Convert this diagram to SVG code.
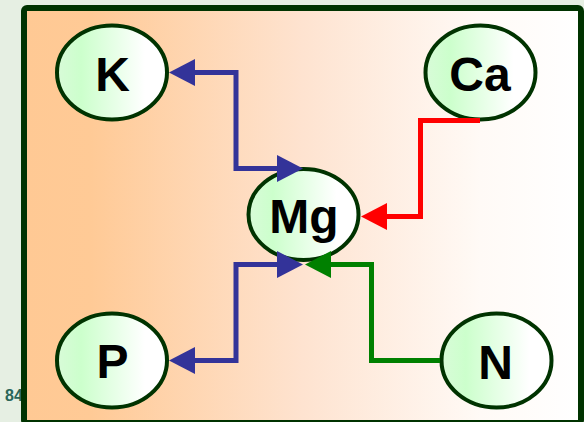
<svg xmlns="http://www.w3.org/2000/svg" width="584" height="422" viewBox="0 0 584 422">
<defs>
<linearGradient id="bg" x1="0" y1="0" x2="1" y2="0">
<stop offset="0" stop-color="#ffc994"/>
<stop offset="0.12" stop-color="#ffca96"/>
<stop offset="0.5" stop-color="#fee3d0"/>
<stop offset="0.82" stop-color="#fffaf6"/>
<stop offset="1" stop-color="#ffffff"/>
</linearGradient>
<linearGradient id="nodefill" x1="0" y1="0" x2="1" y2="0">
<stop offset="0" stop-color="#d8fbd8"/>
<stop offset="0.22" stop-color="#ccffcc"/>
<stop offset="0.8" stop-color="#ffffff"/>
<stop offset="1" stop-color="#ffffff"/>
</linearGradient>
<marker id="ahBlue" markerUnits="userSpaceOnUse" markerWidth="27" markerHeight="28" refX="0" refY="13.5" orient="auto-start-reverse" overflow="visible">
<path d="M0,0 L26,13.5 L0,27 z" fill="#333399"/>
</marker>
<marker id="ahRed" markerUnits="userSpaceOnUse" markerWidth="27" markerHeight="28" refX="0" refY="13.5" orient="auto" overflow="visible">
<path d="M0,0 L26,13.5 L0,27 z" fill="#ff0000"/>
</marker>
<marker id="ahGreen" markerUnits="userSpaceOnUse" markerWidth="27" markerHeight="28" refX="0" refY="13.5" orient="auto" overflow="visible">
<path d="M0,0 L26,13.5 L0,27 z" fill="#008000"/>
</marker>
</defs>
<style>
.node ellipse { fill: url(#nodefill); stroke: #003300; stroke-width: 4; }
.node text { font-family: "Liberation Sans", Arial, sans-serif; font-weight: bold; font-size: 48px; fill: #000000; text-anchor: middle; }
.conn { fill: none; stroke-width: 5; stroke-linejoin: miter; stroke-linecap: butt; }
.blue { stroke: #333399; marker-start: url(#ahBlue); marker-end: url(#ahBlue); }
.red { stroke: #ff0000; marker-end: url(#ahRed); }
.green { stroke: #008000; marker-end: url(#ahGreen); }
</style>
<rect x="0" y="0" width="584" height="422" fill="#e6efe3"/>
<text x="5" y="401" font-family="Liberation Sans, Arial, sans-serif" font-weight="bold" font-size="16" fill="#2a6659">84</text>
<rect id="frame" x="24" y="8" width="557" height="415" rx="3" fill="url(#bg)" stroke="#003300" stroke-width="6"/>
<g id="K" class="node">
<ellipse cx="112" cy="72.5" rx="55" ry="47"/>
<text x="112.5" y="90.5">K</text>
</g>
<g id="Ca" class="node">
<ellipse cx="480.5" cy="72.5" rx="55" ry="47"/>
<text x="480" y="90.5">Ca</text>
</g>
<g id="Mg" class="node">
<ellipse cx="303.5" cy="214.5" rx="55" ry="45.5"/>
<text x="304" y="232.5">Mg</text>
</g>
<g id="P" class="node">
<ellipse cx="112" cy="360.5" rx="55" ry="47"/>
<text x="112.5" y="378">P</text>
</g>
<g id="N" class="node">
<ellipse cx="496.5" cy="360.5" rx="55" ry="47"/>
<text x="495.5" y="378.5">N</text>
</g>
<g id="connectors">
<path class="conn blue" d="M195,72.5 H236 V168.5 H277"/>
<path class="conn blue" d="M195,360.5 H236 V264.5 H277"/>
<path class="conn red" d="M480,120.5 H420.5 V216.5 H387"/>
<path class="conn green" d="M440,360.5 H371.5 V264.5 H331"/>
</g>
</svg>
